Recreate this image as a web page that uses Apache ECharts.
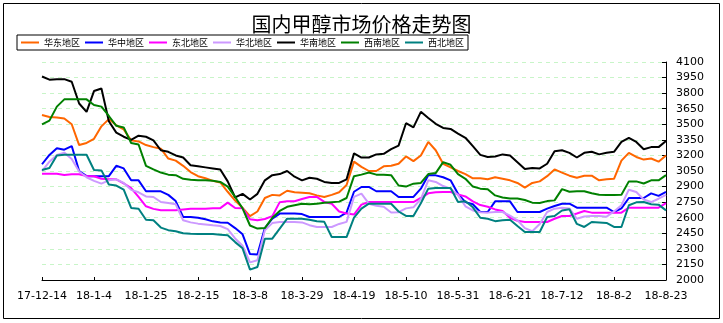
<!DOCTYPE html>
<html><head><meta charset="utf-8">
<script src="https://cdn.jsdelivr.net/npm/echarts@6/dist/echarts.min.js"></script>
<style>html,body{margin:0;padding:0;background:#fff;}#c{width:723px;height:323px;}</style>
</head><body><div id="c"></div>
<script>
const startDate = '2017-12-14';
const stepDays = 3;
const pointCount = 85;
const tickLabels = ['17-12-14','18-1-4','18-1-25','18-2-15','18-3-8','18-3-29','18-4-19','18-5-10','18-5-31','18-6-21','18-7-12','18-8-2','18-8-23'];
const seriesNames = ['华东地区','华中地区','东北地区','华北地区','华南地区','西南地区','西北地区'];
const seriesColors = ['#FF6600','#0000FF','#FF00FF','#CC99FF','#000000','#008000','#008080'];

const huadong = [3590,3570,3565,3555,3500,3300,3320,3360,3480,3550,3490,3450,3345,3335,3300,
3280,3265,3170,3150,3100,3040,3000,2980,2955,2940,2850,2765,2695,2615,
2660,2790,2820,2815,2860,2845,2840,2835,2815,2800,2820,2845,2915,3140,
3090,3050,3050,3095,3100,3120,3190,3145,3200,3330,3250,3120,3085,3050,
3020,2980,2980,2970,2990,2975,2960,2935,2890,2935,2950,3000,3065,3035,
3005,2985,3005,3005,2960,2970,2975,3150,3225,3185,3160,3170,3140,3200];
const huazhong = [3115,3205,3270,3255,3290,3050,3000,3000,3000,3000,3100,3075,2960,2960,2855,
2854,2854,2820,2760,2607,2607,2600,2585,2565,2555,2552,2500,2440,2250,
2245,2500,2590,2640,2640,2640,2635,2607,2607,2607,2607,2607,2650,2850,
2896,2896,2855,2855,2855,2800,2800,2800,2880,3008,3008,2990,2960,2830,
2750,2730,2655,2655,2758,2758,2758,2655,2655,2655,2655,2687,2713,2735,
2735,2697,2697,2697,2697,2697,2655,2690,2790,2790,2790,2835,2810,2848];
const dongbei = [3024,3024,3024,3012,3018,3018,3002,3000,2975,2970,2970,2930,2886,2800,2710,
2685,2671,2671,2671,2680,2687,2687,2687,2690,2692,2745,2694,2690,2585,
2575,2588,2615,2750,2758,2758,2780,2800,2800,2752,2735,2660,2640,2630,
2726,2751,2751,2751,2751,2751,2751,2751,2790,2835,2845,2848,2848,2825,
2805,2758,2722,2705,2680,2665,2600,2570,2559,2559,2559,2559,2590,2617,
2617,2640,2665,2649,2649,2649,2649,2649,2697,2697,2697,2697,2697,2740];
const huabei = [3050,3140,3205,3227,3165,3045,2990,2955,2928,2960,2970,2935,2868,2845,2805,
2800,2751,2742,2730,2575,2555,2543,2535,2527,2520,2490,2400,2330,2170,
2190,2480,2548,2559,2559,2559,2555,2528,2511,2511,2511,2540,2560,2800,
2832,2735,2715,2705,2650,2653,2690,2700,2780,2960,2945,2905,2880,2818,
2710,2670,2652,2649,2655,2655,2620,2575,2500,2470,2540,2655,2687,2697,
2690,2590,2612,2617,2617,2610,2660,2720,2870,2848,2775,2751,2783,2820];
const huanan = [3960,3930,3935,3935,3910,3700,3620,3820,3845,3530,3420,3380,3350,3390,3380,
3345,3250,3235,3200,3180,3105,3095,3085,3075,3065,2950,2795,2830,2775,
2830,2960,3010,3020,3050,2995,2960,2985,2975,2945,2935,2935,2970,3220,
3180,3180,3210,3215,3260,3295,3510,3470,3620,3560,3505,3465,3455,3410,
3370,3290,3205,3185,3190,3210,3200,3135,3070,3080,3075,3120,3240,3250,
3225,3180,3225,3235,3210,3225,3235,3330,3370,3330,3260,3280,3280,3340];
const xinan = [3500,3535,3670,3740,3740,3740,3740,3685,3670,3580,3485,3470,3320,3305,3100,
3065,3035,3015,3010,2975,2965,2960,2960,2955,2945,2900,2800,2690,2525,
2495,2500,2600,2665,2705,2720,2735,2730,2735,2745,2750,2755,2790,3000,
3015,3035,3015,3015,3010,2910,2900,2928,2935,3020,3030,3135,3110,3020,
2975,2900,2880,2875,2815,2795,2785,2785,2770,2745,2742,2760,2767,2875,
2850,2855,2855,2835,2822,2818,2818,2822,2950,2950,2930,2960,2960,3010];
const xibei = [3060,3079,3200,3207,3207,3207,3207,3060,3056,2920,2910,2870,2694,2687,2580,
2575,2505,2480,2470,2450,2446,2443,2443,2443,2437,2430,2365,2305,2100,
2125,2398,2398,2495,2591,2591,2590,2580,2565,2560,2414,2414,2414,2600,
2687,2735,2735,2735,2735,2660,2617,2617,2740,2880,2886,2886,2886,2751,
2758,2700,2600,2590,2567,2575,2580,2520,2462,2462,2462,2607,2617,2670,
2681,2540,2511,2559,2555,2550,2511,2511,2720,2748,2751,2730,2726,2671];

const allSeries = [huadong, huazhong, dongbei, huabei, huanan, xinan, xibei];

const categories = [];
const t0 = Date.parse(startDate + 'T00:00:00Z');
for (let i = 0; i < pointCount; i++) {
  const d = new Date(t0 + i * stepDays * 86400000);
  categories.push(String(d.getUTCFullYear()).slice(2) + '-' + (d.getUTCMonth() + 1) + '-' + d.getUTCDate());
}

const chart = echarts.init(document.getElementById('c'), null, {renderer: 'canvas'});
chart.setOption({
  animation: false,
  backgroundColor: '#ffffff',
  title: {
    text: '国内甲醇市场价格走势图',
    left: 'center', top: 9,
    textStyle: {fontSize: 20, fontWeight: 'normal', color: '#000', fontFamily: 'Noto Sans CJK SC'}
  },
  legend: {
    data: seriesNames,
    left: 17, top: 35,
    padding: [3, 4, 3, 4],
    borderColor: '#000', borderWidth: 1,
    itemWidth: 18, itemHeight: 2, itemGap: 5,
    icon: 'rect',
    textStyle: {fontSize: 9, color: '#000', fontFamily: 'Noto Sans CJK SC'}
  },
  grid: {left: 42, right: 57, top: 62, bottom: 43, containLabel: false},
  xAxis: {
    type: 'category',
    data: categories,
    boundaryGap: false,
    axisLine: {lineStyle: {color: '#000', width: 1}},
    axisTick: {inside: true, length: 3, interval: 6, lineStyle: {color: '#000'}},
    axisLabel: {interval: 6, margin: 11, fontSize: 11, color: '#000', fontFamily: 'DejaVu Sans',
      formatter: function (v, idx) { return tickLabels[idx / 7] !== undefined ? tickLabels[idx / 7] : v; }},
    splitLine: {show: false}
  },
  yAxis: {
    type: 'value',
    position: 'right',
    min: 2000, max: 4100, interval: 150,
    axisLine: {show: true, lineStyle: {color: '#000', width: 1}},
    axisTick: {show: true, inside: true, length: 4, lineStyle: {color: '#000'}},
    axisLabel: {margin: 10, fontSize: 11, color: '#000', fontFamily: 'DejaVu Sans',
      formatter: function (v) { return String(v); }},
    splitLine: {show: true, lineStyle: {color: '#c8f5c8', type: [4, 4], width: 1}}
  },
  graphic: [{
    type: 'rect', silent: true, z: 100,
    shape: {x: 3.5, y: 3.5, width: 716, height: 315},
    style: {fill: 'none', stroke: '#000', lineWidth: 1}
  }],
  series: seriesNames.map(function (n, k) {
    return {
      name: n, type: 'line', data: allSeries[k], symbol: 'none',
      color: seriesColors[k],
      lineStyle: {width: 2, color: seriesColors[k]},
      itemStyle: {color: seriesColors[k]}
    };
  })
});
</script></body></html>
